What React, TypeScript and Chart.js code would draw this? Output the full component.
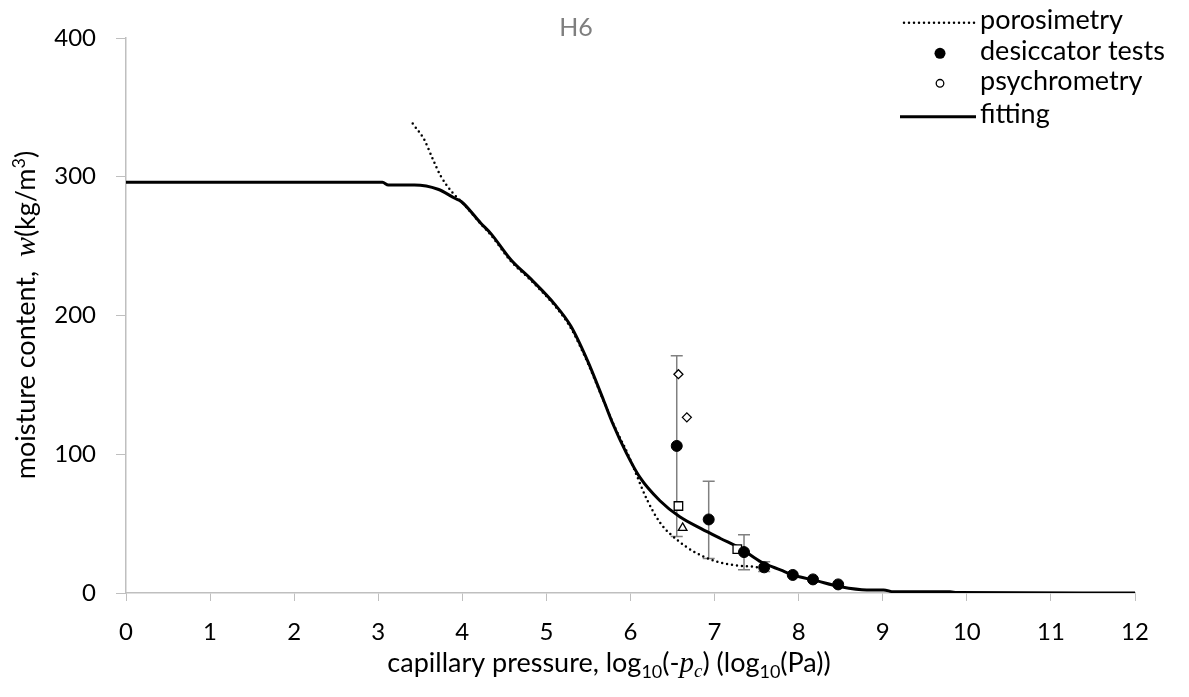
import { useEffect, useRef } from 'react';
import { Chart, registerables } from 'chart.js';

Chart.register(...registerables);

// ---------- data ----------
const fitX = [0, 3.05, 3.12, 3.43, 3.71, 3.91, 3.99, 4.22, 4.34, 4.58, 4.82, 5.1, 5.29, 5.49, 5.68, 5.79, 5.95, 6.11, 6.35, 6.59, 6.84, 7.07, 7.31, 7.55, 7.79, 7.94, 8.02, 8.18, 8.5, 8.81, 9.01, 9.13, 9.8, 9.88, 12];
const fitY = [296, 296, 294, 294, 291, 284.5, 282, 266.5, 259, 240, 226, 208, 192.4, 167.3, 138.9, 122, 101, 83.5, 66.5, 54.7, 46.4, 39.3, 32.1, 22.5, 16.5, 12.9, 11.5, 9.3, 4.5, 2.2, 2.2, 0.9, 0.9, 0.3, 0];

const poroX = [3.41, 3.55, 3.64, 3.74, 3.89, 3.99, 4.22, 4.34, 4.58, 4.82, 5.1, 5.29, 5.49, 5.69, 5.81, 5.97, 6.05, 6.2, 6.36, 6.56, 6.76, 7.0, 7.23, 7.47, 7.6];
const poroY = [338.3, 326.4, 314, 300.8, 288, 282, 266, 258, 239, 225, 207, 191, 166, 137, 120, 100, 88.3, 66.8, 50, 38, 29.6, 23.2, 20.1, 18.9, 17.7];

const desX = [6.55, 6.93, 7.35, 7.59, 7.93, 8.17, 8.47];
const desY = [106, 53, 29.5, 18.5, 13, 9.8, 6.2];
const desErrLow = [40.7, 24.9, 16.8, 15.5, null, null, null];
const desErrHigh = [171, 80.6, 41.9, 22.5, null, null, null];

const psyX = [6.57, 6.67, 6.57, 6.62, 7.27];
const psyY = [157.7, 126.6, 62.7, 46.9, 31.6];
const psyStyle = ['rectRot', 'rectRot', 'rect', 'triangle', 'rect'];

const xMin = 0, xMax = 12, xStep = 1;
const yMin = 0, yMax = 400, yStep = 100;

const titleText = 'H6';
const legendLabels = ['porosimetry', 'desiccator tests', 'psychrometry', 'fitting'];

// ---------- styling ----------
const FONT = 'Lato';
const AXIS_GRAY = '#bfbfbf';

type Seg = { t: string; font: string; dy?: number };

function drawRich(ctx: CanvasRenderingContext2D, segs: Seg[], cx: number, cy: number, rot: number) {
  ctx.save();
  ctx.translate(cx, cy);
  ctx.rotate(rot);
  ctx.textBaseline = 'alphabetic';
  ctx.textAlign = 'left';
  ctx.fillStyle = '#000';
  let total = 0;
  for (const s of segs) {
    ctx.font = s.font;
    total += ctx.measureText(s.t).width;
  }
  let x = -total / 2;
  for (const s of segs) {
    ctx.font = s.font;
    ctx.fillText(s.t, x, s.dy || 0);
    x += ctx.measureText(s.t).width;
  }
  ctx.restore();
}

const OFF = 8; // body margin

const decorPlugin = {
  id: 'decor',
  beforeDatasetsDraw(chart: any) {
    const ctx = chart.ctx as CanvasRenderingContext2D;
    const xs = chart.scales.x;
    const ys = chart.scales.y;
    ctx.save();
    ctx.strokeStyle = '#808080';
    ctx.lineWidth = 1.5;
    for (let i = 0; i < desX.length; i++) {
      const lo = desErrLow[i];
      const hi = desErrHigh[i];
      if (lo == null || hi == null) continue;
      const px = xs.getPixelForValue(desX[i]);
      const pl = ys.getPixelForValue(lo);
      const ph = ys.getPixelForValue(hi);
      ctx.beginPath();
      ctx.moveTo(px, pl);
      ctx.lineTo(px, ph);
      ctx.moveTo(px - 6, pl);
      ctx.lineTo(px + 6, pl);
      ctx.moveTo(px - 6, ph);
      ctx.lineTo(px + 6, ph);
      ctx.stroke();
    }
    ctx.restore();
  },
  afterDraw(chart: any) {
    const ctx = chart.ctx as CanvasRenderingContext2D;
    ctx.save();
    // title
    ctx.font = `25px ${FONT}`;
    ctx.fillStyle = '#7f7f7f';
    ctx.textAlign = 'center';
    ctx.textBaseline = 'alphabetic';
    ctx.fillText(titleText, 576 - OFF, 36 - OFF);

    // legend
    const lx0 = 902 - OFF, lx1 = 976 - OFF, mx = 940 - OFF, tx = 980 - OFF;
    const rows = [22.7, 53.3, 83.3, 116.7].map((v) => v - OFF);
    const bases = [29, 60, 90, 123].map((v) => v - OFF);
    // dotted
    ctx.strokeStyle = '#000';
    ctx.lineWidth = 2.5;
    ctx.lineCap = 'round';
    ctx.setLineDash([0, 5]);
    ctx.beginPath();
    ctx.moveTo(lx0 + 2, rows[0]);
    ctx.lineTo(lx1, rows[0]);
    ctx.stroke();
    ctx.setLineDash([]);
    ctx.lineCap = 'butt';
    // filled circle
    ctx.fillStyle = '#000';
    ctx.beginPath();
    ctx.arc(mx, rows[1], 5.5, 0, Math.PI * 2);
    ctx.fill();
    // open circle
    ctx.fillStyle = '#fff';
    ctx.lineWidth = 1.3;
    ctx.beginPath();
    ctx.arc(mx, rows[2], 3.8, 0, Math.PI * 2);
    ctx.fill();
    ctx.stroke();
    // solid line
    ctx.lineWidth = 3;
    ctx.beginPath();
    ctx.moveTo(lx0 - 2, rows[3]);
    ctx.lineTo(lx1, rows[3]);
    ctx.stroke();
    // texts
    ctx.fillStyle = '#000';
    ctx.font = `27px ${FONT}`;
    ctx.textAlign = 'left';
    legendLabels.forEach((l, i) => ctx.fillText(l, tx, bases[i]));
    ctx.restore();

    // x axis title
    const n = `27px ${FONT}`;
    const sub = `18px ${FONT}`;
    const it = `italic 29px "Liberation Serif"`;
    const itSub = `italic 19px "Liberation Serif"`;
    drawRich(
      ctx,
      [
        { t: 'capillary pressure, log', font: n },
        { t: '10', font: sub, dy: 6 },
        { t: '(-', font: n },
        { t: 'p', font: it },
        { t: 'c', font: itSub, dy: 5 },
        { t: ') (log', font: n },
        { t: '10', font: sub, dy: 6 },
        { t: '(Pa))', font: n },
      ],
      609 - OFF,
      672 - OFF,
      0
    );
    // y axis title
    drawRich(
      ctx,
      [
        { t: 'moisture content,  ', font: n },
        { t: 'w', font: `italic 30px "Liberation Serif"` },
        { t: '(kg/m', font: n },
        { t: '3', font: sub, dy: -10 },
        { t: ')', font: n },
      ],
      35 - OFF,
      315 - OFF,
      -Math.PI / 2
    );
  },
};

export default function App() {
  const ref = useRef<HTMLCanvasElement | null>(null);
  useEffect(() => {
    if (!ref.current) return;
    const chart = new Chart(ref.current, {
      type: 'scatter',
      data: {
        datasets: [
          {
            label: 'desiccator tests',
            data: desX.map((x, i) => ({ x, y: desY[i] })),
            pointRadius: 5.5,
            pointBackgroundColor: '#000',
            pointBorderColor: '#000',
            pointBorderWidth: 1,
            showLine: false,
          },
          {
            label: 'psychrometry',
            data: psyX.map((x, i) => ({ x, y: psyY[i] })),
            pointStyle: psyStyle as any,
            pointRadius: [4.5, 4.5, 6, 5, 6],
            pointBackgroundColor: '#fff',
            pointBorderColor: '#000',
            pointBorderWidth: 1.3,
            showLine: false,
          },
          {
            label: 'fitting',
            data: fitX.map((x, i) => ({ x, y: fitY[i] })),
            showLine: true,
            borderColor: '#000',
            borderWidth: 3,
            pointRadius: 0,
            cubicInterpolationMode: 'monotone',
          },
          {
            label: 'porosimetry',
            data: poroX.map((x, i) => ({ x, y: poroY[i] })),
            showLine: true,
            borderColor: '#000',
            borderWidth: 2.5,
            borderDash: [0, 5],
            borderCapStyle: 'round',
            pointRadius: 0,
            cubicInterpolationMode: 'monotone',
          },
        ] as any,
      },
      options: {
        animation: false,
        responsive: false,
        layout: { padding: { left: 0, top: 30, right: 46, bottom: 0 } },
        plugins: { legend: { display: false }, tooltip: { enabled: false }, title: { display: false } },
        scales: {
          x: {
            type: 'linear',
            min: xMin,
            max: xMax,
            ticks: { stepSize: xStep, font: { family: FONT, size: 24 }, color: '#000', padding: 17 },
            grid: { drawOnChartArea: false, drawTicks: true, tickLength: 8, color: AXIS_GRAY },
            border: { display: true, color: AXIS_GRAY, width: 1.5 },
            afterFit: (s: any) => {
              s.height = 96;
              s.paddingLeft = 0;
              s.paddingRight = 0;
            },
          },
          y: {
            type: 'linear',
            min: yMin,
            max: yMax,
            ticks: { stepSize: yStep, font: { family: FONT, size: 24 }, color: '#000', padding: 20 },
            grid: { drawOnChartArea: false, drawTicks: true, tickLength: 10, color: AXIS_GRAY },
            border: { display: true, color: AXIS_GRAY, width: 1.5 },
            afterFit: (s: any) => {
              s.width = 118;
              s.paddingTop = 0;
              s.paddingBottom = 0;
            },
          },
        },
      },
      plugins: [decorPlugin],
    });
    return () => chart.destroy();
  }, []);
  return (
    <div style={{ width: 1173, height: 681 }}>
      <canvas ref={ref} width={1173} height={681} style={{ display: 'block' }} />
    </div>
  );
}
